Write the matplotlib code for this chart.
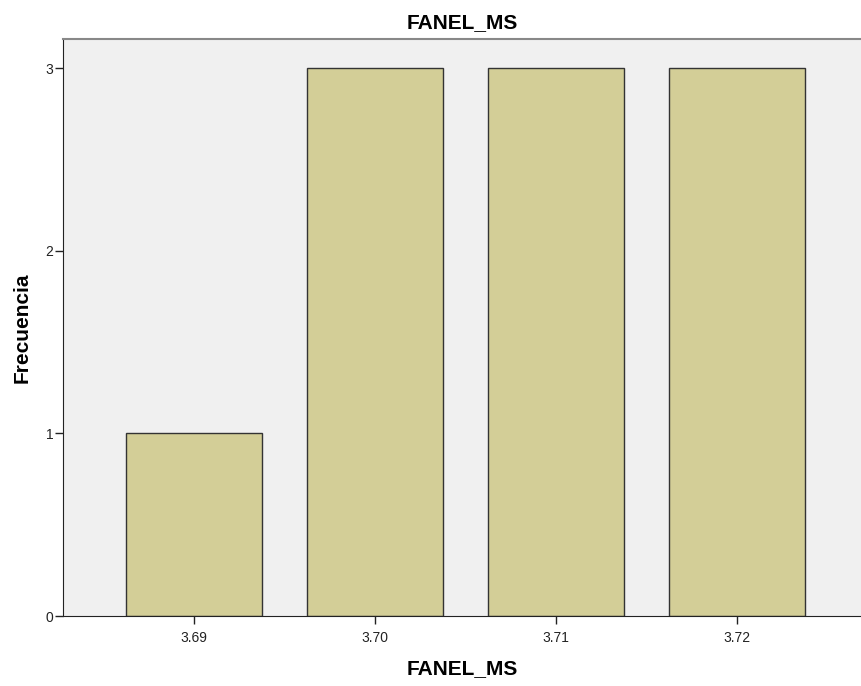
import matplotlib
matplotlib.use("Agg")
import matplotlib.pyplot as plt

# data
categories = ["3.69", "3.70", "3.71", "3.72"]
frequencies = [1, 3, 3, 3]
y_ticks = [0, 1, 2, 3]

plt.rcParams['font.family'] = ['Liberation Sans', 'DejaVu Sans']

fig = plt.figure(figsize=(8.61, 6.86), dpi=100)
ax = fig.add_axes([0.0732, 0.102, 0.9268, 0.841])
ax.set_facecolor('#f0f0f0')

positions = list(range(len(categories)))
ax.bar(positions, frequencies, width=0.75, color='#d3ce97',
       edgecolor='#333333', linewidth=1.0, zorder=2)

ax.set_xlim(-0.724, 3.685)
ax.set_ylim(0, 3.16)
ax.set_xticks(positions)
ax.set_xticklabels(categories)
ax.set_yticks(y_ticks)
ax.tick_params(axis='both', labelsize=10, colors='#222222', length=6, width=1)
ax.tick_params(axis='x', pad=5)
ax.tick_params(axis='y', pad=1)

ax.spines['right'].set_visible(False)
ax.spines['top'].set_color('#888888')
ax.spines['top'].set_linewidth(1.5)
ax.spines['left'].set_color('#222222')
ax.spines['bottom'].set_color('#222222')

ax.set_title("FANEL_MS", fontsize=15, fontweight='bold', pad=8)
ax.set_xlabel("FANEL_MS", fontsize=15, fontweight='bold', labelpad=10)
ax.set_ylabel("Frecuencia", fontsize=15, fontweight='bold', labelpad=10)

fig.savefig('out.png', dpi=100)
